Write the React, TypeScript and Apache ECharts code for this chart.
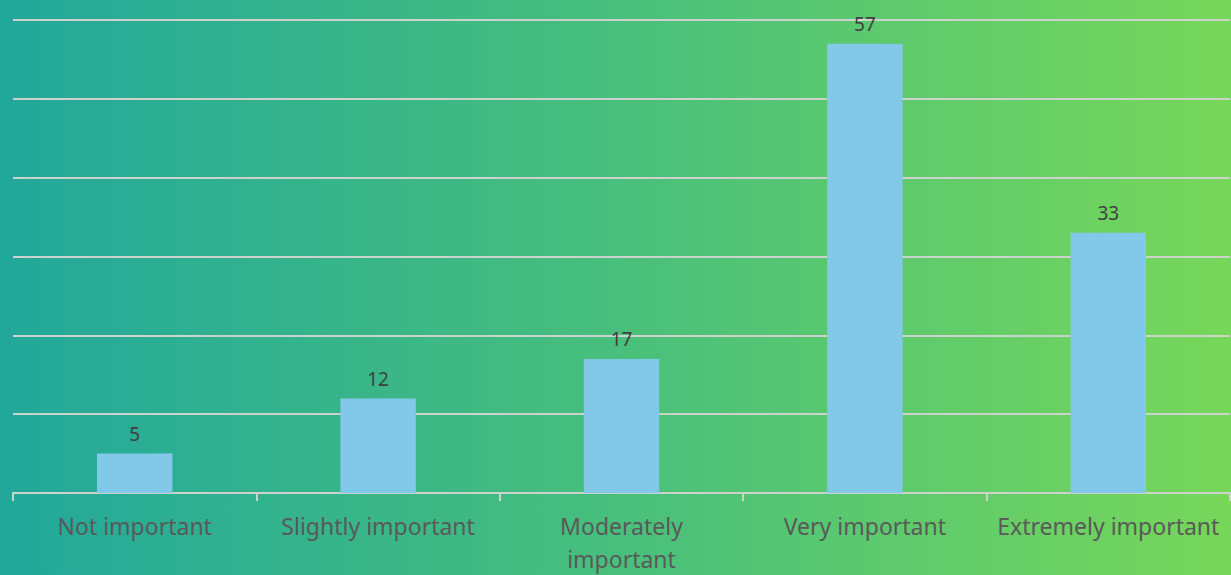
import React, { useEffect, useRef } from "react";
import * as echarts from "echarts";

const categories = [
  "Not important",
  "Slightly important",
  "Moderately important",
  "Very important",
  "Extremely important",
];
const values = [5, 12, 17, 57, 33];
const yMax = 60;
const yInterval = 10;

export default function App() {
  const ref = useRef<HTMLDivElement>(null);
  useEffect(() => {
    document.body.style.margin = "0";
    const chart = echarts.init(ref.current!, null, { renderer: "svg" });
    chart.setOption({
      animation: false,
      backgroundColor: new echarts.graphic.LinearGradient(0, 0, 1, 0, [
        { offset: 0, color: "#22a89b" },
        { offset: 0.5, color: "#48bf7c" },
        { offset: 1, color: "#77d75a" },
      ]),
      grid: { left: 13, right: 1, top: 20, bottom: 79, containLabel: false },
      xAxis: {
        type: "category",
        data: categories,
        boundaryGap: true,
        axisLine: { show: true, lineStyle: { color: "#ccd3cc", width: 2 } },
        axisTick: { show: true, length: 8, alignWithLabel: false, lineStyle: { color: "#ccd3cc", width: 2 } },
        axisLabel: {
          color: "#595959",
          fontSize: 23,
          fontFamily: "Noto Sans",
          margin: 16,
          lineHeight: 33,
          interval: 0,
          formatter: (v: string) => (v === "Moderately important" ? "Moderately\nimportant" : v),
        },
      },
      yAxis: {
        type: "value",
        min: 0,
        max: yMax,
        interval: yInterval,
        axisLabel: { show: false },
        axisLine: { show: false },
        axisTick: { show: false },
        splitLine: { show: true, lineStyle: { color: "#ccd3cc", width: 2 } },
      },
      series: [
        {
          type: "bar",
          data: values,
          barWidth: "31%",
          itemStyle: { color: "#82c8e8" },
          label: {
            show: true,
            position: "top",
            distance: 10,
            color: "#404040",
            fontSize: 19,
            fontFamily: "Noto Sans",
          },
        },
      ],
    });
    return () => chart.dispose();
  }, []);
  return (
    <div
      ref={ref}
      style={{ position: "fixed", left: 0, top: 0, width: 1231, height: 575 }}
    />
  );
}
